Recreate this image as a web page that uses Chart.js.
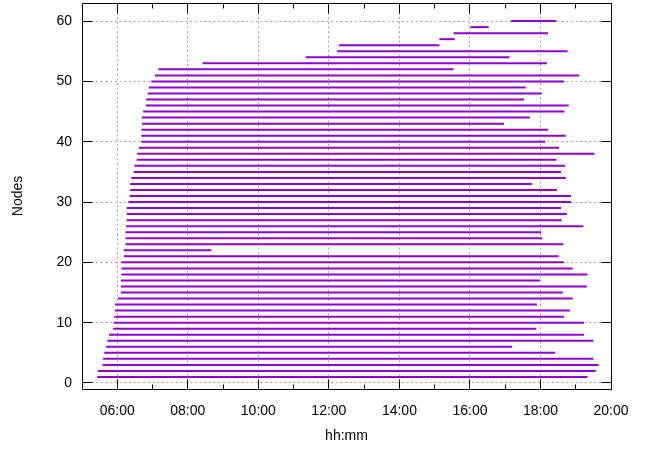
<!DOCTYPE html>
<html>
<head>
<meta charset="utf-8">
<script src="https://cdn.jsdelivr.net/npm/chart.js@4/dist/chart.umd.min.js"></script>
<style>
html,body{margin:0;padding:0;background:#fff;}
canvas{display:block;}
</style>
</head>
<body>
<canvas id="c" width="650" height="455"></canvas>
<script>
// Node numbers (y) and their start / end times (hh:mm)
const nodes = [1,2,3,4,5,6,7,8,9,10,11,12,13,14,15,16,17,18,19,20,
  21,22,23,24,25,26,27,28,29,30,31,32,33,34,35,36,37,38,39,40,
  41,42,43,44,45,46,47,48,49,50,51,52,53,54,55,56,57,58,59,60];
const startTimes = ["05:26","05:27","05:35","05:36","05:38","05:41","05:43","05:46","05:53","05:54",
  "05:55","05:56","05:56","06:01","06:06","06:06","06:06","06:07","06:07","06:07",
  "06:11","06:11","06:14","06:14","06:14","06:15","06:16","06:16","06:16","06:19",
  "06:21","06:22","06:22","06:24","06:28","06:29","06:33","06:34","06:37","06:41",
  "06:41","06:41","06:42","06:42","06:44","06:49","06:49","06:52","06:54","06:58",
  "07:04","07:10","08:25","11:21","12:14","12:17","15:08","15:32","16:01","17:10"];
const endTimes = ["19:20","19:34","19:39","19:30","18:25","17:12","19:30","19:14","17:53","19:14",
  "18:40","18:50","17:54","18:55","18:38","19:19","17:59","19:20","18:55","18:40",
  "18:31","08:40","18:39","18:03","18:01","19:13","18:36","18:45","18:35","18:52",
  "18:52","18:28","17:46","18:43","18:35","18:42","18:27","19:32","18:32","18:08",
  "18:43","18:13","16:58","17:42","18:41","18:48","17:32","18:02","17:35","18:40",
  "19:06","15:32","18:11","17:07","18:46","15:08","15:34","18:13","16:32","18:27"];
// Axis ticks
const xTickHours = [6,8,10,12,14,16,18,20];
const xMinorHours = [7,9,11,13,15,17,19];
const yTicks = [0,10,20,30,40,50,60];

const toHours = s => { const [h,m] = s.split(':').map(Number); return h + m/60; };
const fmt = v => String(Math.floor(v)).padStart(2,'0') + ':' + String(Math.round((v%1)*60)).padStart(2,'0');

const COLOR = '#9400d3';
const datasets = nodes.map((n,i) => ({
  data: [{x: toHours(startTimes[i]), y: n}, {x: toHours(endTimes[i]), y: n}],
  showLine: true, borderColor: COLOR, backgroundColor: COLOR,
  borderWidth: 2, pointRadius: 0, borderCapStyle: 'butt'
}));

const FONT = {family: "'Liberation Sans', Arial, sans-serif", size: 14};

const frame = {
  id: 'frame',
  beforeDatasetsDraw(chart) {
    const {ctx, chartArea: {left, right, top, bottom}, scales: {x, y}} = chart;
    ctx.save();
    ctx.strokeStyle = '#a0a0a0';
    ctx.lineWidth = 1;
    ctx.setLineDash([2, 2.7]);
    xTickHours.forEach(v => {
      const p = Math.floor(x.getPixelForValue(v)) + 0.5;
      if (p <= left + 1 || p >= right - 1) return;
      ctx.beginPath(); ctx.moveTo(p, top); ctx.lineTo(p, bottom); ctx.stroke();
    });
    yTicks.forEach(v => {
      const p = Math.floor(y.getPixelForValue(v)) + 0.5;
      ctx.beginPath(); ctx.moveTo(left, p); ctx.lineTo(right, p); ctx.stroke();
    });
    ctx.restore();
  },
  afterDatasetsDraw(chart) {
    const {ctx, chartArea: {left, right, top, bottom}, scales: {x, y}} = chart;
    const L = Math.floor(left) + 0.5, R = Math.floor(right) + 0.5;
    const T = Math.floor(top) + 0.5, B = Math.floor(bottom) + 0.5;
    ctx.save();
    ctx.strokeStyle = '#000';
    ctx.lineWidth = 1;
    ctx.setLineDash([]);
    ctx.beginPath();
    ctx.moveTo(L, T); ctx.lineTo(R, T); ctx.lineTo(R, B); ctx.lineTo(L, B); ctx.closePath();
    ctx.stroke();
    const tickX = (v, len) => {
      const p = Math.floor(x.getPixelForValue(v)) + 0.5;
      ctx.beginPath();
      ctx.moveTo(p, B); ctx.lineTo(p, B - len);
      ctx.moveTo(p, T); ctx.lineTo(p, T + len);
      ctx.stroke();
    };
    xTickHours.forEach(v => tickX(v, 10));
    xMinorHours.forEach(v => tickX(v, 5));
    yTicks.forEach(v => {
      const p = Math.floor(y.getPixelForValue(v)) + 0.5;
      ctx.beginPath();
      ctx.moveTo(L, p); ctx.lineTo(L + 10, p);
      ctx.moveTo(R, p); ctx.lineTo(R - 10, p);
      ctx.stroke();
    });
    ctx.restore();
  }
};

new Chart(document.getElementById('c'), {
  type: 'scatter',
  data: {datasets},
  options: {
    responsive: false,
    animation: false,
    devicePixelRatio: 1,
    layout: {autoPadding: false, padding: {top: 3, right: 39, left: 0, bottom: 0}},
    plugins: {legend: {display: false}, tooltip: {enabled: false}},
    scales: {
      x: {
        type: 'linear', position: 'bottom', min: 5, max: 20,
        grid: {display: false, drawTicks: false},
        border: {display: false},
        afterBuildTicks: s => { s.ticks = xTickHours.map(v => ({value: v})); },
        afterFit: s => { s.height = 66; s.paddingLeft = 0; s.paddingRight = 0; },
        ticks: {autoSkip: false, maxRotation: 0, padding: 14, color: '#000', font: FONT, callback: v => fmt(v)},
        title: {display: true, text: 'hh:mm', color: '#000', font: FONT, padding: {top: 0, bottom: 10}}
      },
      y: {
        type: 'linear', position: 'left', min: -1, max: 63,
        grid: {display: false, drawTicks: false},
        border: {display: false},
        afterBuildTicks: s => { s.ticks = yTicks.map(v => ({value: v})); },
        afterFit: s => { s.width = 82; s.paddingTop = 0; s.paddingBottom = 0; },
        ticks: {padding: 10, color: '#000', font: FONT},
        title: {display: true, text: 'Nodes', color: '#000', font: FONT, padding: {top: 10, bottom: 0}}
      }
    }
  },
  plugins: [frame]
});
</script>
</body>
</html>
